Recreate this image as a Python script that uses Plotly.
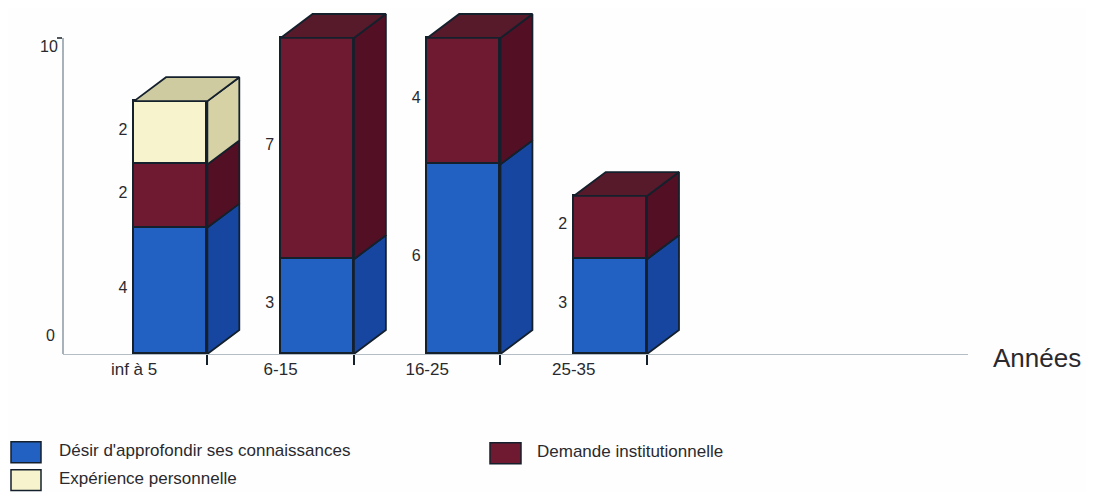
import plotly.graph_objects as go

categories = ["inf à 5", "6-15", "16-25", "25-35"]
desir = [4, 3, 6, 3]
demande = [2, 7, 4, 2]
experience = [2, None, None, None]
series_names = ["Désir d'approfondir ses connaissances", "Demande institutionnelle", "Expérience personnelle"]
front_colors = ["#2260c2", "#701a31", "#f7f4cd"]
side_colors = ["#1646a0", "#530f24", "#d6d2a6"]
top_colors = ["#1646a0", "#561a2b", "#cfcba0"]

# The page has an 8 px body margin, so figure pixels = page pixels - 8
PAGE = 8
W, H = 1094 - PAGE, 492 - PAGE
L, R, T, B = 63, 968, 7, 354
PER_UNIT = 31.7
EDGE = "#14202c"
FONT = "Liberation Sans, Arial, sans-serif"
TEXT = "#2a2a2e"
BAR_W = 0.5
DX, DY = 0.218, 0.757
x_range = [-0.485, 5.69]
y_top = (B - T) / PER_UNIT

fig = go.Figure()
allv = [desir, demande, experience]

for name, vals, col in zip(series_names, allv, front_colors):
    fig.add_trace(go.Bar(x=categories, y=vals, name=name, offset=0, width=BAR_W,
                         marker=dict(color=col, line=dict(color=EDGE, width=1.8)),
                         cliponaxis=False, showlegend=False))

tx, ty, tt = [], [], []
totals = [0] * len(categories)
for s, vals in enumerate(allv):
    for i, v in enumerate(vals):
        if not v:
            continue
        b = totals[i]
        t = b + v
        totals[i] = t
        fig.add_trace(go.Scatter(
            x=[i + BAR_W, i + BAR_W + DX, i + BAR_W + DX, i + BAR_W, i + BAR_W],
            y=[b, b + DY, t + DY, t, b], xaxis="x2", mode="lines", fill="toself",
            fillcolor=side_colors[s], line=dict(color=EDGE, width=1.8),
            cliponaxis=False, showlegend=False, hoverinfo="skip"))
        tx.append(i - 0.045)
        ty.append((b + t) / 2 + 0.07)
        tt.append(str(v))

for i, top in enumerate(totals):
    s = max(k for k, vals in enumerate(allv) if vals[i])
    fig.add_trace(go.Scatter(
        x=[i, i + DX, i + BAR_W + DX, i + BAR_W, i],
        y=[top, top + DY, top + DY, top, top], xaxis="x2", mode="lines", fill="toself",
        fillcolor=top_colors[s], line=dict(color=EDGE, width=1.8),
        cliponaxis=False, showlegend=False, hoverinfo="skip"))

fig.add_trace(go.Scatter(x=tx, y=ty, text=tt, xaxis="x2", mode="text",
                         textposition="middle left",
                         textfont=dict(family=FONT, size=16, color=TEXT),
                         cliponaxis=False, showlegend=False, hoverinfo="skip"))

def xp(px):
    return (px - L) / (R - L)

def yp(py):
    return (B - py) / (B - T)

annotations = [
    dict(text="10", xref="paper", yref="paper", x=xp(60), y=yp(46), xanchor="right", yanchor="middle",
         showarrow=False, font=dict(family=FONT, size=16, color=TEXT)),
    dict(text="0", xref="paper", yref="paper", x=xp(57), y=yp(335), xanchor="right", yanchor="middle",
         showarrow=False, font=dict(family=FONT, size=16, color=TEXT)),
    dict(text="Années", xref="paper", yref="paper", x=xp(991), y=yp(358), xanchor="left", yanchor="middle",
         showarrow=False, font=dict(family=FONT, size=26, color=TEXT)),
]
shapes = [dict(type="line", xref="paper", yref="y", x0=0, x1=0, y0=0, y1=10,
               line=dict(color="#8a98a4", width=1.5))]
legend_pos = [(11, 442, 41, 463, 57, 451), (490, 443, 521, 464, 535, 452), (11, 470, 41, 491, 57, 479)]
for name, col, (x0, y0, x1, y1, tx0, ty0) in zip(series_names, front_colors, legend_pos):
    shapes.append(dict(type="rect", xref="paper", yref="paper", x0=xp(x0), x1=xp(x1), y0=yp(y1), y1=yp(y0),
                       fillcolor=col, line=dict(color=EDGE, width=1.5)))
    annotations.append(dict(text=name, xref="paper", yref="paper", x=xp(tx0), y=yp(ty0), xanchor="left",
                            yanchor="middle", showarrow=False, font=dict(family=FONT, size=17, color=TEXT)))

fig.update_layout(
    width=W, height=H, barmode="stack", bargap=0,
    margin=dict(l=L - PAGE, r=W - (R - PAGE), t=0, b=H - (B - PAGE), pad=0),
    paper_bgcolor="#fefefe", plot_bgcolor="#fefefe",
    showlegend=False, annotations=annotations, shapes=shapes,
    xaxis=dict(type="category", categoryorder="array", categoryarray=categories, range=x_range,
               tickson="boundaries", ticks="outside", ticklen=10, tickwidth=1.5, tickcolor=EDGE,
               showline=True, linecolor="#b4bcc4", linewidth=1, showgrid=False, zeroline=False,
               tickfont=dict(family=FONT, size=17, color=TEXT)),
    xaxis2=dict(overlaying="x", range=x_range, visible=False, showgrid=False, zeroline=False),
    yaxis=dict(range=[0, y_top], tickvals=[10], ticktext=[""], ticks="outside", ticklen=5, tickwidth=1.5,
               tickcolor="#50585f", showline=False, showgrid=False, zeroline=False),
)
fig.write_html("out.html")
